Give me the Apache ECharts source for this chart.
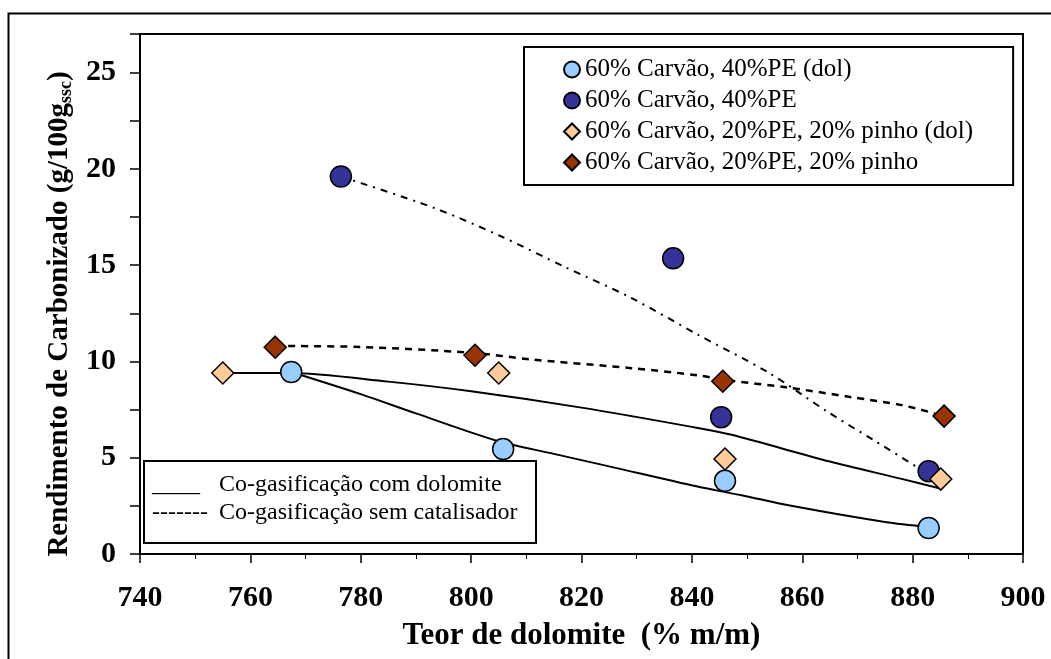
<!DOCTYPE html>
<html>
<head>
<meta charset="utf-8">
<script src="https://cdn.jsdelivr.net/npm/echarts@6/dist/echarts.min.js"></script>
<style>
  html, body { margin: 0; padding: 0; background: #fff; }
  #chart { width: 1051px; height: 659px; }
</style>
</head>
<body>
<div id="chart"></div>
<script>
// dados
var seriesNames = ['60% Carvão, 40%PE (dol)', '60% Carvão, 40%PE', '60% Carvão, 20%PE, 20% pinho (dol)', '60% Carvão, 20%PE, 20% pinho'];

var xPEdol = [767.4, 805.8, 846.0, 882.9];
var yPEdol = [9.45, 5.45, 3.8, 1.35];
var xPE = [776.4, 836.6, 845.3, 882.9];
var yPE = [19.6, 15.35, 7.1, 4.3];
var xPinhoDol = [755.0, 805.0, 846.0, 885.1];
var yPinhoDol = [9.4, 9.4, 4.93, 3.89];
var xPinho = [764.5, 800.7, 845.6, 885.7];
var yPinho = [10.74, 10.32, 8.97, 7.16];

// curvas de tendência
var curvaPinhoDolX = [755, 767, 785, 800, 820, 840, 847, 865, 878, 885];
var curvaPinhoDolY = [9.4, 9.4, 8.95, 8.45, 7.6, 6.6, 6.2, 4.8, 3.9, 3.4];
var curvaPEdolX = [767.4, 780, 790, 805, 815, 825, 841, 849, 858, 875, 883];
var curvaPEdolY = [9.45, 8.3, 7.3, 5.85, 5.2, 4.55, 3.5, 3.05, 2.5, 1.66, 1.4];
var curvaPinhoX = [764.5, 780, 800, 811, 829, 841, 847, 857, 869, 878, 884];
var curvaPinhoY = [10.8, 10.75, 10.45, 10.1, 9.65, 9.28, 9.0, 8.66, 8.14, 7.73, 7.3];
var curvaPEX = [776.4, 793, 805, 817, 829, 841, 854, 864.5, 873, 882];
var curvaPEY = [19.6, 18.0, 16.55, 14.9, 13.3, 11.4, 9.4, 7.4, 5.9, 4.3];

var legendaTracos = ['____', '-------'];
var legendaInferior = ['Co-gasificação com dolomite', 'Co-gasificação sem catalisador'];

(function () {
    var myChart = echarts.init(document.getElementById('chart'));
    var font = "'Liberation Serif', 'Times New Roman', serif";

    function pares(xs, ys) {
        return xs.map(function (x, i) { return [x, ys[i]]; });
    }

    function pontos(nome, xs, ys, simbolo, cor) {
        return {
            name: nome,
            type: 'scatter',
            data: pares(xs, ys),
            symbol: simbolo,
            symbolSize: simbolo === 'diamond' ? 22 : 21,
            itemStyle: { color: cor, borderColor: '#000', borderWidth: 1.5, opacity: 1 },
            z: 5
        };
    }

    function curva(xs, ys, tipo, largura) {
        return {
            type: 'line',
            data: pares(xs, ys),
            showSymbol: false,
            symbol: 'none',
            smooth: 0.3,
            silent: true,
            lineStyle: { color: '#000', width: largura, type: tipo },
            z: 2
        };
    }

    var option = {
        backgroundColor: '#fff',
        animation: false,
        grid: {
            left: 140, right: 28, top: 34, bottom: 105,
            show: true, borderColor: '#000', borderWidth: 2, backgroundColor: '#fff'
        },
        legend: {
            data: seriesNames,
            orient: 'vertical',
            left: 524, top: 47,
            padding: [10, 40, 10, 39],
            itemGap: 6,
            itemWidth: 16, itemHeight: 16,
            backgroundColor: '#fff',
            borderColor: '#000', borderWidth: 2,
            textStyle: { fontFamily: font, fontSize: 25, color: '#000', lineHeight: 24 }
        },
        xAxis: {
            type: 'value',
            min: 740, max: 900, interval: 20,
            name: 'Teor de dolomite  (% m/m)',
            nameLocation: 'middle',
            nameGap: 66,
            nameTextStyle: { fontFamily: font, fontSize: 31, fontWeight: 'bold', color: '#000' },
            axisLine: { lineStyle: { color: '#000', width: 2 } },
            axisTick: { length: 9, lineStyle: { color: '#000', width: 1.5 } },
            minorTick: { show: true, splitNumber: 2, length: 5, lineStyle: { color: '#000', width: 1 } },
            splitLine: { show: false },
            axisLabel: { margin: 29, fontFamily: font, fontSize: 30, fontWeight: 'bold', color: '#000' }
        },
        yAxis: {
            type: 'value',
            min: 0, max: 27, interval: 2.5,
            name: 'Rendimento de Carbonizado (g/100g{s|ssc})',
            nameLocation: 'middle',
            nameGap: 56,
            nameRotate: 90,
            nameTextStyle: {
                fontFamily: font, fontSize: 29, fontWeight: 'bold', color: '#000',
                padding: [0, 40, 0, 0],
                rich: {
                    s: { fontFamily: font, fontSize: 18, fontWeight: 'bold', color: '#000', padding: [14, 0, 0, 0] }
                }
            },
            axisLine: { lineStyle: { color: '#000', width: 2 } },
            axisTick: { length: 10, lineStyle: { color: '#000', width: 1.5 } },
            splitLine: { show: false },
            axisLabel: {
                margin: 24, fontFamily: font, fontSize: 30, fontWeight: 'bold', color: '#000',
                formatter: function (v) { return (v % 5 === 0) ? String(v) : ''; }
            }
        },
        graphic: [
            {
                type: 'rect', left: 6, top: 11, z: -10, silent: true,
                shape: { width: 1100, height: 700 },
                style: { fill: 'none', stroke: '#000', lineWidth: 2 }
            },
            {
                type: 'group', left: 143, top: 460, z: 100,
                children: [
                    {
                        type: 'rect',
                        shape: { width: 392, height: 82 },
                        style: { fill: '#fff', stroke: '#000', lineWidth: 2 }
                    },
                    {
                        type: 'text', left: 8, top: 12,
                        style: { text: legendaTracos[0], font: '24px ' + font, fill: '#000' }
                    },
                    {
                        type: 'text', left: 75, top: 12,
                        style: { text: legendaInferior[0], font: '24px ' + font, fill: '#000' }
                    },
                    {
                        type: 'text', left: 8, top: 40,
                        style: { text: legendaTracos[1], font: '24px ' + font, fill: '#000' }
                    },
                    {
                        type: 'text', left: 75, top: 40,
                        style: { text: legendaInferior[1], font: '24px ' + font, fill: '#000' }
                    }
                ]
            }
        ],
        series: [
            curva(curvaPinhoDolX, curvaPinhoDolY, 'solid', 2),
            curva(curvaPEdolX, curvaPEdolY, 'solid', 2),
            curva(curvaPinhoX, curvaPinhoY, [7, 6], 2.5),
            curva(curvaPEX, curvaPEY, [7, 6, 2, 6], 2),
            pontos(seriesNames[0], xPEdol, yPEdol, 'circle', '#99CCFF'),
            pontos(seriesNames[1], xPE, yPE, 'circle', '#333399'),
            pontos(seriesNames[2], xPinhoDol, yPinhoDol, 'diamond', '#FFCC99'),
            pontos(seriesNames[3], xPinho, yPinho, 'diamond', '#993300')
        ]
    };

    myChart.setOption(option);
})();
</script>
</body>
</html>
